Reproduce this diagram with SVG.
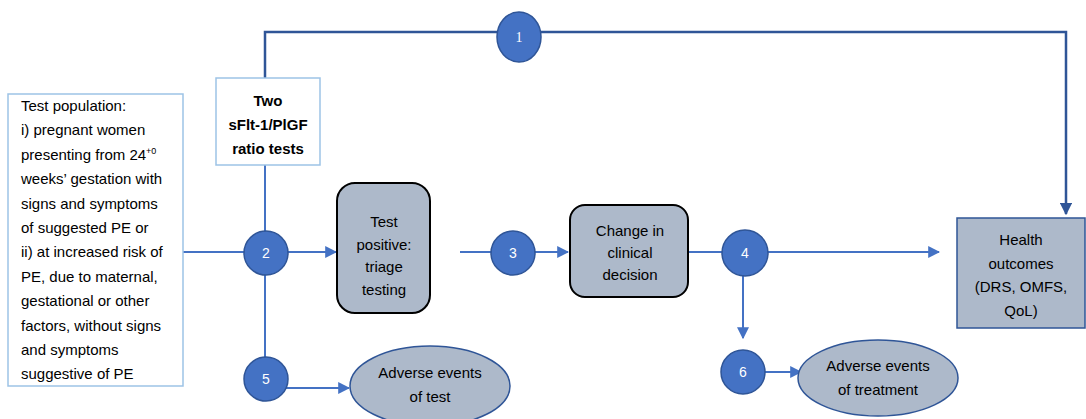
<svg xmlns="http://www.w3.org/2000/svg" width="1086" height="419" viewBox="0 0 1086 419">
<defs>
<marker id="ah" viewBox="0 0 10 10" refX="9" refY="5" markerWidth="6" markerHeight="6" orient="auto" markerUnits="strokeWidth"><path d="M0,0 L10,5 L0,10 z" fill="#4472c4"/></marker>
<marker id="ahd" viewBox="0 0 10 10" refX="9" refY="5" markerWidth="5" markerHeight="5" orient="auto" markerUnits="strokeWidth"><path d="M0,0 L10,5 L0,10 z" fill="#2f5597"/></marker>
</defs>
<style>
.t{font-family:"Liberation Sans",Arial,sans-serif;font-size:15px;fill:#000}
.c{text-anchor:middle}
.b{font-weight:bold}
.num{font-family:"Liberation Sans",Arial,sans-serif;font-size:14px;fill:#fff;text-anchor:middle}
.circ{fill:#4472c4;stroke:#2f5597;stroke-width:1.5}
.ln{stroke:#4472c4;stroke-width:2;fill:none}
.lnd{stroke:#2f5597;stroke-width:2.5;fill:none}
.gb{fill:#adb9ca}
</style>
<g id="connectors">
<polyline class="lnd" points="265,78 265,32 1066,32 1066,214" marker-end="url(#ahd)"/>
<line class="ln" x1="265" y1="165" x2="265" y2="360"/>
<line class="ln" x1="183" y1="252" x2="336" y2="252" marker-end="url(#ah)"/>
<line class="ln" x1="460" y1="252" x2="568" y2="252" marker-end="url(#ah)"/>
<line class="ln" x1="688" y1="252" x2="939" y2="252" marker-end="url(#ah)"/>
<line class="ln" x1="743" y1="270" x2="743" y2="338" marker-end="url(#ah)"/>
<line class="ln" x1="285" y1="388" x2="349" y2="388" marker-end="url(#ah)"/>
<line class="ln" x1="763" y1="372" x2="801" y2="372" marker-end="url(#ah)"/>
</g>
<g id="population">
<rect x="8" y="94" width="175" height="292" fill="#fff" stroke="#9dc3e6" stroke-width="1.5"/>
<text class="t" x="21" y="111">Test population:</text>
<text class="t" x="21" y="135">i) pregnant women</text>
<text class="t" x="21" y="160">presenting from 24<tspan font-size="9" dy="-6">+0</tspan></text>
<text class="t" x="21" y="184">weeks’ gestation with</text>
<text class="t" x="21" y="209">signs and symptoms</text>
<text class="t" x="21" y="233">of suggested PE or</text>
<text class="t" x="21" y="257">ii) at increased risk of</text>
<text class="t" x="21" y="282">PE, due to maternal,</text>
<text class="t" x="21" y="306">gestational or other</text>
<text class="t" x="21" y="331">factors, without signs</text>
<text class="t" x="21" y="355">and symptoms</text>
<text class="t" x="21" y="379">suggestive of PE</text>
</g>
<g id="tests">
<rect x="216" y="78" width="104" height="87" fill="#fff" stroke="#9dc3e6" stroke-width="1.5"/>
<text class="t c b" x="268" y="106">Two</text>
<text class="t c b" x="268" y="130">sFlt-1/PlGF</text>
<text class="t c b" x="268" y="154">ratio tests</text>
</g>
<g id="triage">
<rect x="337" y="183" width="93" height="130" rx="18" class="gb" stroke="#000" stroke-width="2"/>
<text class="t c" x="384" y="227">Test</text>
<text class="t c" x="384" y="250">positive:</text>
<text class="t c" x="384" y="272">triage</text>
<text class="t c" x="384" y="295">testing</text>
</g>
<g id="change">
<rect x="570" y="205" width="118" height="92" rx="15" class="gb" stroke="#000" stroke-width="2"/>
<text class="t c" x="630" y="236">Change in</text>
<text class="t c" x="630" y="258">clinical</text>
<text class="t c" x="630" y="280">decision</text>
</g>
<g id="health">
<rect x="957" y="218" width="128" height="110" class="gb" stroke="#2f5597" stroke-width="1.5"/>
<text class="t c" x="1021" y="245">Health</text>
<text class="t c" x="1021" y="269">outcomes</text>
<text class="t c" x="1021" y="292">(DRS, OMFS,</text>
<text class="t c" x="1021" y="316">QoL)</text>
</g>
<g id="ae-test">
<ellipse cx="430" cy="386" rx="80" ry="40" class="gb" stroke="#2f5597" stroke-width="1.5"/>
<text class="t c" x="430" y="378">Adverse events</text>
<text class="t c" x="430" y="402">of test</text>
</g>
<g id="ae-treat">
<ellipse cx="878" cy="378" rx="80" ry="38" class="gb" stroke="#2f5597" stroke-width="1.5"/>
<text class="t c" x="878" y="371">Adverse events</text>
<text class="t c" x="878" y="395">of treatment</text>
</g>
<g id="n1"><ellipse cx="519" cy="37" rx="22" ry="25" class="circ"/><text class="num" x="519" y="42" style="font-family:'Liberation Serif',serif">1</text></g>
<g id="n2"><circle cx="266" cy="253" r="22" class="circ"/><text class="num" x="266" y="258">2</text></g>
<g id="n3"><circle cx="513" cy="253" r="22" class="circ"/><text class="num" x="513" y="258">3</text></g>
<g id="n4"><circle cx="745" cy="253" r="23" class="circ"/><text class="num" x="745" y="258">4</text></g>
<g id="n5"><circle cx="266" cy="379" r="22" class="circ"/><text class="num" x="266" y="384">5</text></g>
<g id="n6"><circle cx="743" cy="372" r="22" class="circ"/><text class="num" x="743" y="377">6</text></g>
</svg>
